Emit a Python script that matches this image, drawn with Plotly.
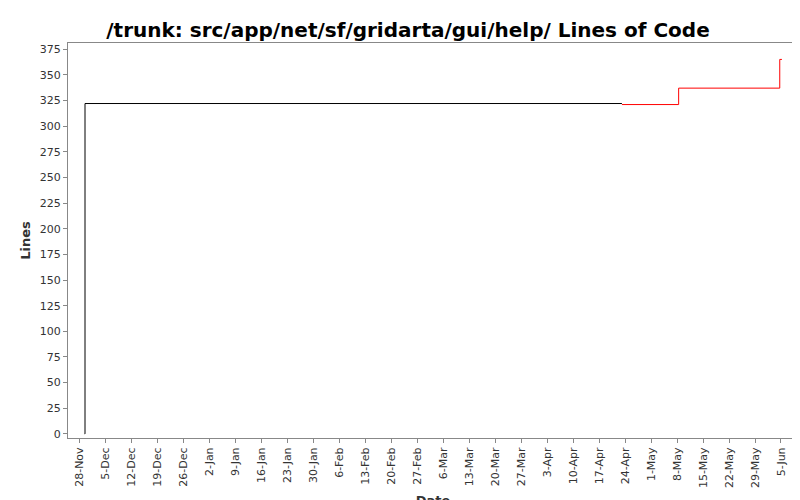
import plotly.graph_objects as go
import pandas as pd

# black segment (initial import)
dates_a = ["2006-11-29 08:00", "2006-11-29 10:00", "2007-04-23 03:00"]
lines_a = [0, 322, 322]
# red segment (later changes)
dates_b = ["2007-04-23 03:00", "2007-05-08 10:00", "2007-06-04 16:00", "2007-06-05 06:00"]
lines_b = [321, 337, 365, 365]

tick_dates = pd.date_range("2006-11-28", "2007-06-05", freq="7D")
tick_text = [d.strftime("%-d-%b") for d in tick_dates]

fig = go.Figure()
fig.add_trace(go.Scatter(x=dates_a, y=lines_a, mode="lines", line=dict(color="black", width=1, shape="hv")))
fig.add_trace(go.Scatter(x=dates_b, y=lines_b, mode="lines", line=dict(color="red", width=1, shape="hv")))

fig.update_layout(
    width=800, height=500,
    paper_bgcolor="white", plot_bgcolor="white",
    showlegend=False,
    margin=dict(l=60, r=10, t=35, b=70, autoexpand=False),
    title=dict(text="<b>/trunk: src/app/net/sf/gridarta/gui/help/ Lines of Code</b>",
               x=0.5, y=0.97, xanchor="center", font=dict(family="DejaVu Sans", size=20, color="black")),
    font=dict(family="DejaVu Sans", size=11, color="#333"),
    xaxis=dict(
        title=dict(text="<b>Date</b>", font=dict(size=13), standoff=8),
        range=["2006-11-24 20:00", "2007-06-09 14:00"],
        tickvals=tick_dates, ticktext=tick_text, tickangle=-90,
        ticks="outside", ticklen=4, tickcolor="#888", automargin=False,
        showgrid=False, showline=True, linecolor="#888", mirror=True, zeroline=False,
    ),
    yaxis=dict(
        title=dict(text="<b>Lines</b>", font=dict(size=13), standoff=6),
        range=[-4, 381], dtick=25,
        ticks="outside", ticklen=4, tickcolor="#888", automargin=False,
        showgrid=False, showline=True, linecolor="#888", mirror=True, zeroline=False,
    ),
)

fig.write_html("out.html")
